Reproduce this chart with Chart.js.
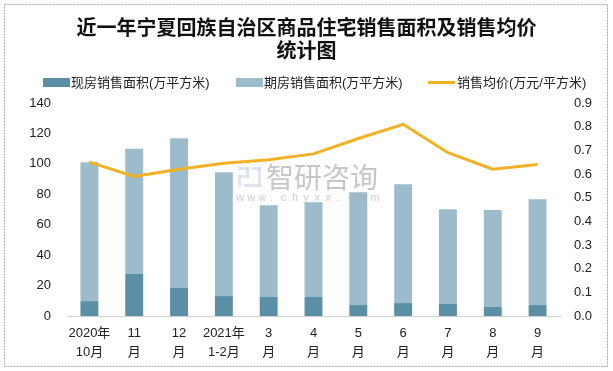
<!DOCTYPE html>
<html>
<head>
<meta charset="utf-8">
<script src="https://cdn.jsdelivr.net/npm/chart.js@4"></script>
<style>
  html, body { margin: 0; padding: 0; background: #fff; }
  #wrap { width: 613px; height: 371px; position: relative; }
</style>
</head>
<body>
<div id="wrap"><canvas id="chart" width="613" height="371"></canvas></div>
<script>
// months shown on the x axis
const months = [['2020年', '10月'], ['11', '月'], ['12', '月'], ['2021年', '1-2月'], ['3', '月'], ['4', '月'], ['5', '月'], ['6', '月'], ['7', '月'], ['8', '月'], ['9', '月']];
// 现房销售面积 (万平方米)
const xianfang = [9.8, 27.6, 18.4, 13.1, 12.5, 12.5, 7.2, 8.5, 7.9, 5.9, 7.2];
// 期房销售面积 (万平方米)
const qifang = [91.2, 82.4, 98.4, 81.4, 60.3, 62.3, 74.2, 78.1, 62.3, 63.7, 69.6];
// 销售均价 (万元/平方米)
const price = [0.65, 0.59, 0.62, 0.645, 0.66, 0.685, 0.75, 0.81, 0.69, 0.62, 0.64];

const seriesNames = ['现房销售面积(万平方米)', '期房销售面积(万平方米)', '销售均价(万元/平方米)'];
const colors = { dark: '#5b8fa6', light: '#9dbccb', line: '#f2b124' };
const FONT = '"Liberation Sans", "Noto Sans CJK SC", sans-serif';

// frame, legend and watermark
const decor = {
    id: 'decor',
    beforeDraw(chart) {
        const ctx = chart.ctx;
        ctx.save();
        ctx.fillStyle = '#fff';
        ctx.fillRect(0, 0, chart.width, chart.height);
        ctx.strokeStyle = '#a6a6a6';
        ctx.lineWidth = 1;
        ctx.setLineDash([2, 1]);
        ctx.strokeRect(4.5, 4.5, 603, 362);
        ctx.restore();
    },
    afterDatasetsDraw(chart) {
        const ctx = chart.ctx;
        ctx.save();
        ctx.globalAlpha = 0.6;
        ctx.fillStyle = '#a0a0a0';
        ctx.font = '28px "Noto Sans CJK SC", sans-serif';
        ctx.textBaseline = 'middle';
        ctx.fillText('智研咨询', 266, 177);
        ctx.font = '11px "Liberation Sans", sans-serif';
        ctx.fillStyle = '#aaaaaa';
        const url = 'www.chyxx.com';
        for (let i = 0; i < url.length; i++) ctx.fillText(url[i], 236 + i * 11.2, 198);
        // logo
        ctx.fillStyle = '#c9d6e6';
        ctx.fillRect(238, 167, 11, 3);
        ctx.fillRect(246, 167, 3, 10);
        ctx.fillRect(238, 175, 11, 3);
        ctx.fillRect(238, 175, 3, 12);
        ctx.fillRect(252, 167, 9, 3);
        ctx.fillRect(258, 167, 3, 20);
        ctx.fillRect(244, 184, 17, 3);
        ctx.restore();
    },
    afterDraw(chart) {
        const ctx = chart.ctx;
        ctx.save();
        ctx.font = '13px ' + FONT;
        ctx.textBaseline = 'middle';
        ctx.fillStyle = colors.dark;
        ctx.fillRect(43, 78, 27, 9);
        ctx.fillStyle = colors.light;
        ctx.fillRect(236, 78, 27, 9);
        ctx.strokeStyle = colors.line;
        ctx.lineWidth = 3;
        ctx.beginPath();
        ctx.moveTo(428, 82.5);
        ctx.lineTo(455, 82.5);
        ctx.stroke();
        ctx.fillStyle = '#222';
        ctx.fillText(seriesNames[0], 71, 83);
        ctx.fillText(seriesNames[1], 264, 83);
        ctx.fillText(seriesNames[2], 457, 83);
        ctx.restore();
    }
};

new Chart(document.getElementById('chart'), {
    data: {
        labels: months,
        datasets: [
            {
                type: 'line',
                label: seriesNames[2],
                data: price,
                yAxisID: 'y1',
                borderColor: colors.line,
                backgroundColor: colors.line,
                borderWidth: 3,
                pointRadius: 0,
                tension: 0,
                order: 0
            },
            {
                type: 'bar',
                label: seriesNames[0],
                data: xianfang,
                backgroundColor: colors.dark,
                stack: 'area',
                barPercentage: 0.4,
                categoryPercentage: 1,
                order: 1
            },
            {
                type: 'bar',
                label: seriesNames[1],
                data: qifang,
                backgroundColor: colors.light,
                stack: 'area',
                barPercentage: 0.4,
                categoryPercentage: 1,
                order: 1
            }
        ]
    },
    options: {
        responsive: false,
        animation: false,
        layout: { padding: 0 },
        plugins: {
            legend: { display: false },
            tooltip: { enabled: false },
            title: {
                display: true,
                text: ['近一年宁夏回族自治区商品住宅销售面积及销售均价', '统计图'],
                color: '#111',
                font: { family: '"Noto Sans CJK SC", sans-serif', size: 20, weight: 'bold', lineHeight: 1.15 },
                padding: { top: 16, bottom: 41 }
            }
        },
        scales: {
            x: {
                stacked: true,
                offset: true,
                grid: { display: false, drawTicks: false },
                border: { display: true, color: '#d0d0d0', width: 1 },
                ticks: { color: '#222', font: { family: FONT, size: 13, lineHeight: 1.45 }, padding: 8, maxRotation: 0, autoSkip: false },
                afterFit: (s) => { s.height = 55; }
            },
            y: {
                stacked: true,
                position: 'left',
                min: 0,
                max: 140,
                grid: { display: false, drawTicks: false },
                border: { display: false },
                ticks: { stepSize: 20, color: '#222', font: { family: FONT, size: 13 }, padding: 16 },
                afterFit: (s) => { s.width = 67; }
            },
            y1: {
                position: 'right',
                min: 0,
                max: 0.9,
                grid: { display: false, drawTicks: false },
                border: { display: false },
                ticks: { stepSize: 0.1, color: '#222', font: { family: FONT, size: 13 }, padding: 14, callback: (v) => v.toFixed(1) },
                afterFit: (s) => { s.width = 53; }
            }
        }
    },
    plugins: [decor]
});
</script>
</body>
</html>
